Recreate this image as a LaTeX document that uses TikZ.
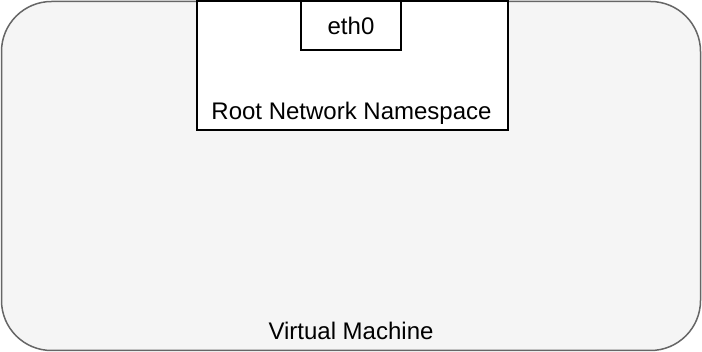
\documentclass[tikz,border=0pt]{standalone}
\usepackage{fontspec}
\setmainfont{Liberation Sans}
\usepackage{tikz}
\usetikzlibrary{positioning}
\definecolor{vmgray}{RGB}{245,245,245}
\definecolor{vmline}{RGB}{102,102,102}

\begin{document}
\begin{tikzpicture}[x=1pt,y=-1pt,
    every node/.style={font=\fontsize{24}{28}\selectfont},
    box/.style={draw=black,fill=white,line width=1.4pt,inner sep=0pt}]
      \useasboundingbox (0,0) rectangle (702,352);

      \node[draw=vmline,fill=vmgray,rounded corners=50pt,line width=1.5pt,
            minimum width=699pt,minimum height=349pt,inner sep=0pt,
            label={[anchor=south,yshift=8pt]south:Virtual Machine}]
        (vm) at (351,176) {};

      \node[box,minimum width=311pt,minimum height=129pt]
        (rootns) at (352.5,65.5) {};
      \node[anchor=base] (rootlabel) at (351.5,119.5) {Root Network Namespace};

      \node[box,minimum width=100pt,minimum height=49pt]
        (eth) at (351,25.5) {eth0};
    \end{tikzpicture}
\end{document}
